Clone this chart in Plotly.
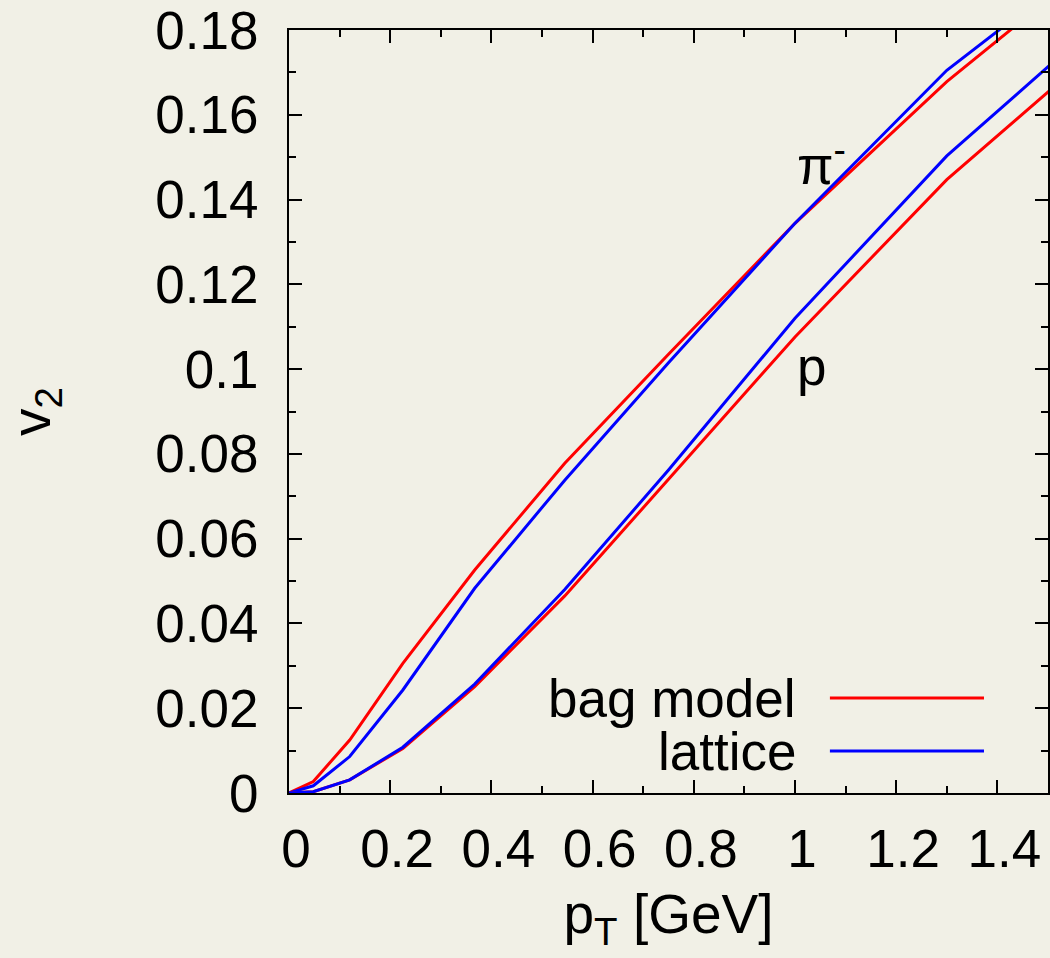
import plotly.graph_objects as go

pt = [0.0, 0.048, 0.12, 0.225, 0.367, 0.545, 0.75, 1.0, 1.3, 1.65]
bag_pi = [0.0, 0.0027, 0.0125, 0.0306, 0.0526, 0.0778, 0.1035, 0.1344, 0.1678, 0.2018]
lat_pi = [0.0, 0.0017, 0.0086, 0.0243, 0.0483, 0.0738, 0.1015, 0.1344, 0.1705, 0.2027]
bag_p = [0.0, 0.0003, 0.0031, 0.0105, 0.0251, 0.0465, 0.0740, 0.1076, 0.1447, 0.1809]
lat_p = [0.0, 0.0003, 0.0031, 0.0108, 0.0257, 0.0480, 0.0762, 0.1120, 0.1503, 0.1871]

series_names = ["bag model", "lattice"]
colors = ["#ff0000", "#0000ff"]
xticks = [0, 0.2, 0.4, 0.6, 0.8, 1.0, 1.2, 1.4]
xticklabels = ["0", "0.2", "0.4", "0.6", "0.8", "1", "1.2", "1.4"]
yticks = [0, 0.02, 0.04, 0.06, 0.08, 0.1, 0.12, 0.14, 0.16, 0.18]
yticklabels = ["0", "0.02", "0.04", "0.06", "0.08", "0.1", "0.12", "0.14", "0.16", "0.18"]

FONT = "Liberation Sans, Arial, Helvetica, sans-serif"
BG = "#f1f0e6"
FS = 53
FT = 55

fig = go.Figure()
for ys, c in [(bag_pi, colors[0]), (lat_pi, colors[1]), (bag_p, colors[0]), (lat_p, colors[1])]:
    fig.add_trace(go.Scatter(x=pt, y=ys, mode="lines",
                             line=dict(color=c, width=3), showlegend=False,
                             cliponaxis=True))

# legend (gnuplot style: text right aligned, sample line to the right)
leg_y = [0.0224, 0.0099]
for name, c, yy in zip(series_names, colors, leg_y):
    fig.add_annotation(x=1.006, y=yy, xref="x", yref="y", text=name, showarrow=False,
                       xanchor="right", yanchor="middle",
                       font=dict(family=FONT, size=FS, color="black"))
    fig.add_shape(type="line", x0=1.069, x1=1.3735, y0=yy, y1=yy, xref="x", yref="y",
                  line=dict(color=c, width=3))

fig.add_annotation(x=1.0, y=0.1490, xref="x", yref="y", text="π<sup>-</sup>",
                   showarrow=False, xanchor="left", yanchor="middle",
                   font=dict(family=FONT, size=FS, color="black"))
fig.add_annotation(x=1.0, y=0.1005, xref="x", yref="y", text="p",
                   showarrow=False, xanchor="left", yanchor="middle",
                   font=dict(family=FONT, size=FS, color="black"))

axis_common = dict(showline=True, linecolor="black", linewidth=2, mirror="allticks",
                   ticks="inside", ticklen=13, tickwidth=2, tickcolor="black",
                   showgrid=False, zeroline=False,
                   tickfont=dict(family=FONT, size=FS, color="black"))

fig.update_xaxes(range=[0, 1.5], tickvals=xticks, ticktext=xticklabels,
                 minor=dict(dtick=0.1, ticks="inside", ticklen=7, tickwidth=2, tickcolor="black", showgrid=False),
                 title=dict(text="p<sub>T</sub> [GeV]", font=dict(family=FONT, size=FT, color="black"), standoff=18),
                 ticklabelstandoff=8, ticklabelshift=7,
                 **axis_common)
fig.update_yaxes(range=[0, 0.18], tickvals=yticks, ticktext=yticklabels,
                 minor=dict(dtick=0.01, ticks="inside", ticklen=7, tickwidth=2, tickcolor="black", showgrid=False),
                 title=dict(text="v<sub>2</sub>", font=dict(family=FONT, size=FT, color="black"), standoff=106),
                 ticklabelstandoff=18,
                 **axis_common)

fig.update_layout(width=1050, height=958,
                  margin=dict(l=289, r=2, t=30, b=165, autoexpand=False),
                  paper_bgcolor=BG, plot_bgcolor=BG,
                  font=dict(family=FONT, size=FS, color="black"))

fig.write_html("out.html", config={"displayModeBar": False},
               post_script="document.body.style.margin='0px';document.body.style.background='%s';" % BG)
